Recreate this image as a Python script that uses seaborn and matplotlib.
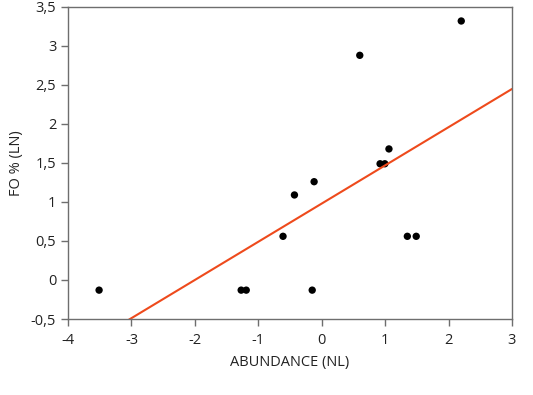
import numpy as np
import pandas as pd
import matplotlib
matplotlib.use("Agg")
import matplotlib.pyplot as plt
import seaborn as sns
from matplotlib.ticker import FuncFormatter

abundance_nl = [-3.51, -1.27, -1.19, -0.61, -0.43, -0.12, -0.15, 0.60, 0.92, 0.995, 1.06, 2.20, 1.35, 1.49]
fo_ln = [-0.13, -0.13, -0.13, 0.56, 1.09, 1.26, -0.13, 2.88, 1.49, 1.49, 1.68, 3.32, 0.56, 0.56]

df = pd.DataFrame({"abundance": abundance_nl, "fo": fo_ln})

sns.set_style("white")
plt.rcParams['font.family'] = ['Open Sans', 'DejaVu Sans']

fig = plt.figure(figsize=(5.33, 3.95), dpi=100)
ax = fig.add_axes([0.1276, 0.1924, 0.833, 0.79])
ax.set_xlim(-4, 3)
ax.set_ylim(-0.5, 3.5)

sns.regplot(x="abundance", y="fo", data=df, ax=ax, ci=None, truncate=False,
            scatter_kws={"color": "black", "s": 28, "edgecolor": "none", "alpha": 1},
            line_kws={"color": "#ee4a1c", "linewidth": 1.5})
ax.set_xlim(-4, 3)
ax.set_ylim(-0.5, 3.5)

ax.set_xticks(np.arange(-4, 4, 1))
ax.set_yticks(np.arange(-0.5, 4.0, 0.5))
fmt = FuncFormatter(lambda v, p: ("%g" % v).replace(".", ","))
ax.xaxis.set_major_formatter(fmt)
ax.yaxis.set_major_formatter(fmt)

for s in ax.spines.values():
    s.set_color("#6e6e6e")
    s.set_linewidth(1.0)
ax.tick_params(axis="both", direction="out", length=5, width=1, color="#6e6e6e",
               labelsize=10.5, labelcolor="#222222", bottom=True, left=True, top=False, right=False)
ax.tick_params(axis="x", pad=5)

ax.set_xlabel("ABUNDANCE (NL)", fontsize=10.5, color="#222222", labelpad=5)
ax.set_ylabel("FO % (LN)", fontsize=10.5, color="#222222", labelpad=5)

fig.savefig("out.png", dpi=100)
